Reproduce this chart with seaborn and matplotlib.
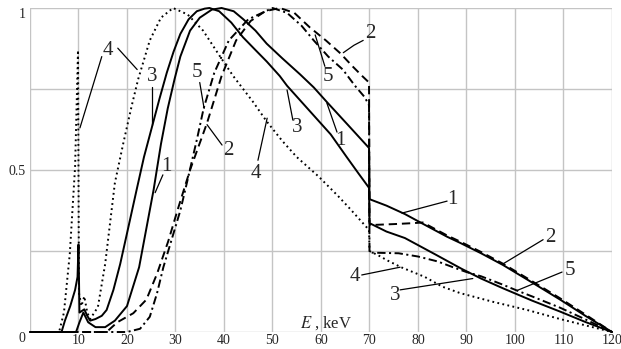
"""
Normalised X-ray spectra (curves 1-5) vs photon energy, Mathcad-style plot.
Output: out.png (621x349)
"""

import pandas as pd
import matplotlib
matplotlib.use("Agg")
import matplotlib.pyplot as plt
import seaborn as sns

sns.set_style("white")
plt.rcParams["font.family"] = ["Liberation Serif", "DejaVu Serif"]
plt.rcParams["mathtext.fontset"] = "stix"
plt.rcParams["lines.scale_dashes"] = False

# -------------------------------------------------------------------------
# DATA
# -------------------------------------------------------------------------
c1_E = [0, 9.5, 10.2, 11, 12, 13.5, 15.5, 17.5, 20, 22.5, 24, 25.5, 27, 28.4, 29.8,
        31, 33, 35, 37.5, 39.5, 42, 44, 46.5, 48.8, 52, 55.7, 58.5, 61.2, 65.5, 69.9,
        70, 73.5, 77.3, 81, 86, 88.7, 93, 97.5, 103.5, 109.3, 114.5, 120]
c1_y = [0, 0, 0.03, 0.06, 0.03, 0.015, 0.015, 0.035, 0.08, 0.2, 0.32, 0.44, 0.58, 0.69, 0.78,
        0.85, 0.93, 0.97, 0.995, 1.0, 0.99, 0.965, 0.93, 0.89, 0.845, 0.795, 0.755, 0.71, 0.64, 0.568,
        0.41, 0.39, 0.364, 0.334, 0.294, 0.275, 0.243, 0.207, 0.153, 0.1, 0.05, 0]

c2_E = [0, 15.8, 18, 21.3, 24, 26.2, 28.5, 30.5, 33, 36.5, 39.5, 42.5, 45.5, 48.5, 51.5,
        54.5, 57.7, 61, 64, 66.5, 68.5, 69.9,
        70, 75, 79, 81, 86, 88.7, 93, 97.5, 103.5, 109.3, 114.5, 120]
c2_y = [0, 0, 0.03, 0.058, 0.1, 0.18, 0.28, 0.38, 0.5, 0.645, 0.79, 0.9, 0.96, 0.99, 1.0,
        0.985, 0.94, 0.9, 0.86, 0.82, 0.79, 0.77,
        0.33, 0.333, 0.336, 0.338, 0.298, 0.279, 0.247, 0.211, 0.157, 0.104, 0.054, 0]

c3_E = [0, 6.5, 7.2, 8.3, 9.3, 9.8, 10.0, 10.2, 10.7, 11.2, 11.8, 12.4, 13.5, 14.8, 15.8,
        17.2, 18.6, 20.6, 22, 23.5, 25.1, 26.7, 28.2, 29.6, 31, 32.7, 34.4, 36, 37,
        39, 41.5, 43.9, 46.5, 48.8, 51.5, 53, 55.7, 58.4, 62, 65.3, 67.7, 69.9,
        70, 73.5, 77.3, 83.5, 89, 93, 97.5, 103.5, 109.3, 114.5, 120]
c3_y = [0, 0, 0.035, 0.08, 0.13, 0.17, 0.27, 0.06, 0.065, 0.07, 0.05, 0.035, 0.04, 0.05, 0.068,
        0.13, 0.21, 0.345, 0.44, 0.54, 0.63, 0.72, 0.8, 0.865, 0.92, 0.965, 0.99, 0.998, 1.0,
        0.99, 0.955, 0.91, 0.87, 0.835, 0.79, 0.76, 0.715, 0.67, 0.61, 0.54, 0.49, 0.445,
        0.336, 0.31, 0.29, 0.24, 0.195, 0.165, 0.135, 0.097, 0.063, 0.031, 0]

c4_E = [0, 6, 7, 8.2, 9.3, 9.9, 10.1, 10.6, 11.2, 11.8, 12.4, 14, 15.5, 17.5, 19.2,
        21, 22.3, 24.7, 27, 29.5, 32.5, 35.7, 39.2, 41.9, 46, 48.8, 52, 55, 59.5, 63.5,
        66, 69, 69.9,
        70, 72, 73.8, 76.5, 81.4, 85, 88.7, 95.5, 102.5, 109.3, 116, 120]
c4_y = [0, 0, 0.06, 0.24, 0.51, 0.87, 0.12, 0.08, 0.11, 0.06, 0.04, 0.077, 0.21, 0.46, 0.58,
        0.7, 0.78, 0.9, 0.97, 1.0, 0.98, 0.93, 0.85, 0.79, 0.71, 0.65, 0.59, 0.54, 0.48, 0.42,
        0.38, 0.33, 0.315,
        0.25, 0.235, 0.22, 0.2, 0.17, 0.14, 0.12, 0.093, 0.068, 0.04, 0.015, 0]

c5_E = [0, 20, 22.7, 24.7, 26.2, 27.5, 29.5, 31, 32.5, 34.5, 35.8, 38, 41, 45, 50,
        53, 56, 58.5, 61.5, 64.5, 67, 69, 69.9,
        70, 76, 80, 84, 87.2, 90, 93, 97.5, 100.4, 103.5, 109.3, 114.5, 120]
c5_y = [0, 0, 0.01, 0.047, 0.12, 0.2, 0.3, 0.375, 0.47, 0.6, 0.69, 0.8, 0.9, 0.965, 1.0,
        0.985, 0.945, 0.9, 0.85, 0.81, 0.76, 0.725, 0.70,
        0.245, 0.243, 0.233, 0.218, 0.2, 0.185, 0.172, 0.146, 0.128, 0.11, 0.075, 0.039, 0]

# x "0" is shared with the y axis label in the corner
x_ticks = list(range(0, 121, 10))
x_tick_labels = [""] + [str(t) for t in x_ticks[1:]]
y_ticks = [0, 0.25, 0.5, 0.75, 1]
y_tick_labels = ["0", "", "0.5", "", "1"]

# curve number -> line style (points)
styles = {
    "1": "-",
    "2": (0, (6, 3.5)),
    "3": "-",
    "4": (0, (1.3, 2.4)),
    "5": (0, (6, 2.5, 1.5, 2.5)),
}

curves = pd.concat([
    pd.DataFrame({"E": c1_E, "y": c1_y, "curve": "1"}),
    pd.DataFrame({"E": c2_E, "y": c2_y, "curve": "2"}),
    pd.DataFrame({"E": c3_E, "y": c3_y, "curve": "3"}),
    pd.DataFrame({"E": c4_E, "y": c4_y, "curve": "4"}),
    pd.DataFrame({"E": c5_E, "y": c5_y, "curve": "5"}),
])

# number callouts: label, text position, leader line
callouts = [
    ("4", (16.1, 0.87), [(14.8, 0.85), (10.3, 0.63)]),
    ("4", (16.1, 0.87), [(18.1, 0.876), (22.1, 0.81)]),
    ("3", (25.1, 0.79), [(25.1, 0.755), (25.1, 0.64)]),
    ("1", (28.2, 0.51), [(27.4, 0.485), (25.8, 0.43)]),
    ("5", (34.4, 0.80), [(35.0, 0.77), (35.9, 0.69)]),
    ("2", (40.8, 0.56), [(39.6, 0.577), (36.5, 0.64)]),
    ("4", (46.6, 0.49), [(47.0, 0.53), (48.9, 0.66)]),
    ("3", (55.0, 0.63), [(54.2, 0.654), (53.0, 0.747)]),
    ("1", (63.9, 0.59), [(63.3, 0.617), (61.2, 0.707)]),
    ("5", (61.4, 0.79), [(60.8, 0.82), (58.8, 0.917)]),
    ("2", (70.1, 0.92), [(68.7, 0.90), (66.8, 0.885), (64.6, 0.862)]),
    ("1", (87.0, 0.41), [(86.0, 0.404), (76.7, 0.367)]),
    ("2", (107.2, 0.293), [(105.8, 0.285), (97.5, 0.21)]),
    ("5", (111.3, 0.19), [(109.7, 0.185), (100.4, 0.128)]),
    ("3", (75.3, 0.114), [(76.3, 0.13), (91.3, 0.165)]),
    ("4", (67.0, 0.17), [(68.4, 0.176), (76.3, 0.2)]),
]

# -------------------------------------------------------------------------
# PLOT
# -------------------------------------------------------------------------
fig = plt.figure(figsize=(6.21, 3.49), dpi=100)
ax = fig.add_axes([0.0483, 0.0487, 0.9372, 0.9284])

for name, grp in curves.groupby("curve"):
    sns.lineplot(data=grp, x="E", y="y", estimator=None, sort=False, color="black",
                 lw=1.4, linestyle=styles[name], clip_on=False, ax=ax)

seen = set()
for label, (tx, ty), path in callouts:
    xs, ys = zip(*path)
    ax.plot(xs, ys, color="black", lw=0.9, clip_on=False)
    if (label, tx, ty) not in seen:
        ax.text(tx, ty, label, fontsize=15, ha="center", va="center")
        seen.add((label, tx, ty))

ax.text(55.6, 0.028, r"$E$ , keV", fontsize=12, ha="left", va="center")

ax.set_xlim(0, 120)
ax.set_ylim(0, 1)
ax.set_xticks(x_ticks)
ax.set_xticklabels(x_tick_labels)
ax.set_yticks(y_ticks)
ax.set_yticklabels(y_tick_labels)
for lab in ax.get_yticklabels():
    if lab.get_text() in ("0", "1"):
        lab.set_va("top")
ax.tick_params(length=0, labelsize=10, pad=3)
ax.tick_params(axis="x", pad=1.5)
ax.grid(True, color="#c4c4c4", lw=1)
ax.set_xlabel(""); ax.set_ylabel("")
for sp in ax.spines.values():
    sp.set_visible(False)

fig.savefig("out.png", dpi=100)
